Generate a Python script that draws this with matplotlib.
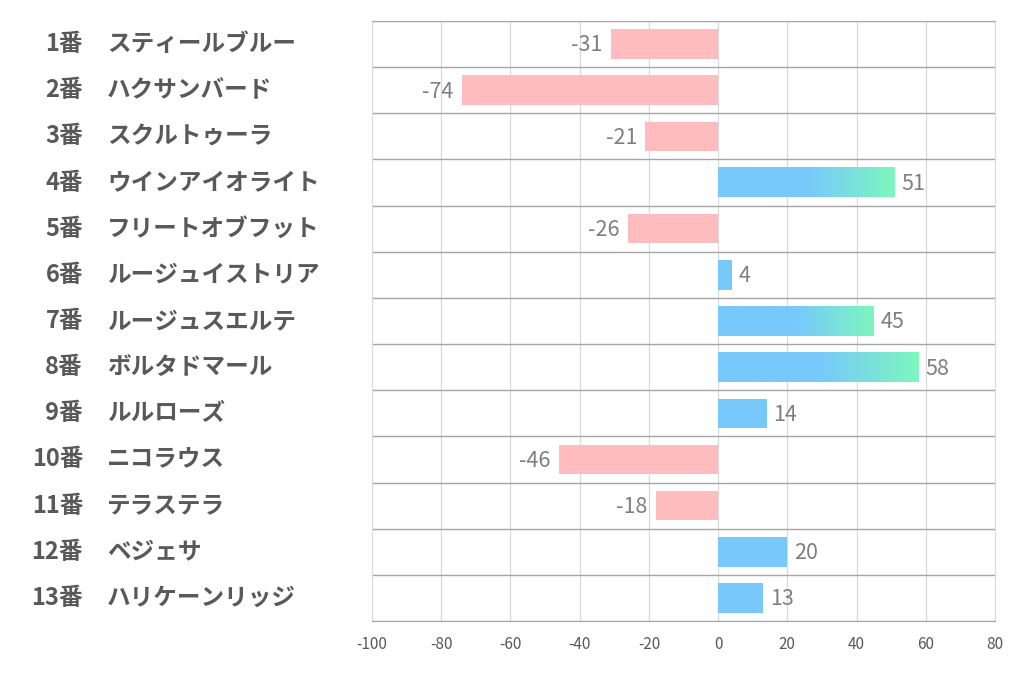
import numpy as np
import matplotlib.pyplot as plt
from matplotlib.colors import LinearSegmentedColormap
from matplotlib.transforms import blended_transform_factory

plt.rcParams['font.family'] = ['Noto Sans CJK JP', 'DejaVu Sans']

numbers = ["1番", "2番", "3番", "4番", "5番", "6番", "7番", "8番", "9番", "10番", "11番", "12番", "13番"]
names = ["スティールブルー", "ハクサンバード", "スクルトゥーラ", "ウインアイオライト", "フリートオブフット",
         "ルージュイストリア", "ルージュスエルテ", "ボルタドマール", "ルルローズ", "ニコラウス",
         "テラステラ", "ベジェサ", "ハリケーンリッジ"]
values = [-31, -74, -21, 51, -26, 4, 45, 58, 14, -46, -18, 20, 13]
xticks = [-100, -80, -60, -40, -20, 0, 20, 40, 60, 80]

pink = "#ffbcbe"
blue = "#78c8fc"
green = "#7cf7be"
grad = LinearSegmentedColormap.from_list("bg", [blue, blue, green])

fig = plt.figure(figsize=(10.22, 6.78), dpi=100)
ax = fig.add_axes([372 / 1022, 1 - 621 / 678, 623 / 1022, 600 / 678])

h = 0.64
for i, v in enumerate(values):
    if v < 0:
        ax.barh(i, v, height=h, color=pink, zorder=2)
        ax.annotate(str(v), (v, i), xytext=(-6, -1), textcoords="offset points",
                    ha="right", va="center", fontsize=15.5, color="#7f7f7f")
    else:
        if v >= 40:
            img = np.linspace(0, 1, 256).reshape(1, -1)
            ax.imshow(img, cmap=grad, extent=(0, v, i + h / 2, i - h / 2),
                      aspect="auto", zorder=2, interpolation="bilinear")
        else:
            ax.barh(i, v, height=h, color=blue, zorder=2)
        ax.annotate(str(v), (v, i), xytext=(5, -1), textcoords="offset points",
                    ha="left", va="center", fontsize=15.5, color="#7f7f7f")

ax.set_xlim(-100, 80)
ax.set_ylim(len(values) - 0.5, -0.5)
ax.set_xticks(xticks)
ax.set_xticklabels([str(t) for t in xticks], fontsize=11, color="#595959")
ax.tick_params(axis="x", length=0, pad=11)
ax.set_yticks([])

for t in xticks[1:-1]:
    ax.axvline(t, color="#d9d9d9", lw=0.9, zorder=0)
for b in np.arange(-0.5, len(values), 1.0):
    ax.axhline(b, color="#a6a6a6", lw=1.0, zorder=1)

for s in ["left", "right"]:
    ax.spines[s].set_color("#d9d9d9")
ax.spines["top"].set_color("#a6a6a6")
ax.spines["bottom"].set_color("#a6a6a6")

tr = blended_transform_factory(fig.transFigure, ax.transData)
for i in range(len(values)):
    ax.text(83 / 1022, i, numbers[i], transform=tr, ha="right", va="center",
            fontsize=17, fontweight="bold", color="#595959")
    ax.text(107 / 1022, i, names[i], transform=tr, ha="left", va="center",
            fontsize=17, fontweight="bold", color="#595959")

fig.savefig("out.png", dpi=100)
